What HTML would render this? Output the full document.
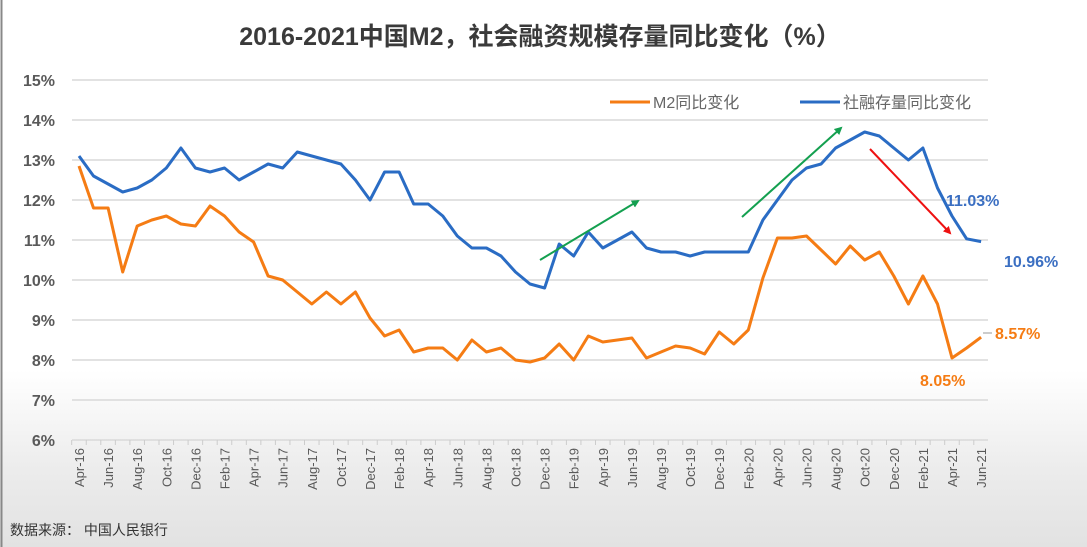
<!DOCTYPE html>
<html><head><meta charset="utf-8">
<style>
html,body{margin:0;padding:0;}
body{width:1087px;height:547px;overflow:hidden;background:linear-gradient(to bottom,#fff 0,#fff 370px,#ececec 470px,#e2e2e2 547px);font-family:"Liberation Sans","Noto Sans CJK SC",sans-serif;}
</style></head><body>
<svg id="s" width="1087" height="547" xmlns="http://www.w3.org/2000/svg" style="position:absolute;left:0;top:0">
<line x1="1.5" y1="0" x2="1.5" y2="547" stroke="#888" stroke-width="2"/>
<text x="540" y="45" text-anchor="middle" font-size="25" font-weight="bold" fill="#3a3a3a" font-family="Liberation Sans,Noto Sans CJK SC,sans-serif">2016-2021中国M2，社会融资规模存量同比变化（%）</text>
<g id="grid"></g>
<g id="ax"></g>
<path id="pb" fill="none" stroke="#2a6cc4" stroke-width="3" stroke-linejoin="round"/>
<path id="po" fill="none" stroke="#f57c14" stroke-width="3" stroke-linejoin="round"/>
<line x1="610" y1="102" x2="650" y2="102" stroke="#f57c14" stroke-width="3"/>
<text x="653" y="108" font-size="16" fill="#666">M2同比变化</text>
<line x1="800" y1="102" x2="840" y2="102" stroke="#2a6cc4" stroke-width="3"/>
<text x="843" y="108" font-size="16" fill="#666">社融存量同比变化</text>
<defs>
<marker id="ag" markerWidth="8" markerHeight="8" refX="6" refY="4" orient="auto" markerUnits="userSpaceOnUse"><path d="M0,0 L8,4 L0,8 z" fill="#14a050"/></marker>
<marker id="ar" markerWidth="8" markerHeight="8" refX="6" refY="4" orient="auto" markerUnits="userSpaceOnUse"><path d="M0,0 L8,4 L0,8 z" fill="#ee1111"/></marker>
</defs>
<line x1="540" y1="260" x2="638" y2="201" stroke="#14a050" stroke-width="2" marker-end="url(#ag)"/>
<line x1="742" y1="217" x2="841" y2="128" stroke="#14a050" stroke-width="2" marker-end="url(#ag)"/>
<line x1="870" y1="149" x2="950" y2="233" stroke="#ee1111" stroke-width="2" marker-end="url(#ar)"/>
<text x="946" y="206" font-size="16" font-weight="bold" fill="#3b6fc2">11.03%</text>
<text x="1004" y="267" font-size="16" font-weight="bold" fill="#3b6fc2">10.96%</text>
<line x1="983" y1="333" x2="992" y2="333" stroke="#999" stroke-width="1"/>
<text x="995" y="339" font-size="16" font-weight="bold" fill="#f57c14">8.57%</text>
<text x="920" y="386" font-size="16" font-weight="bold" fill="#f57c14">8.05%</text>
<text x="10" y="535" font-size="14" fill="#333">数据来源：  中国人民银行</text>
</svg>
<script>
var b=[13.1,12.6,12.4,12.2,12.3,12.5,12.8,13.3,12.8,12.7,12.8,12.5,12.7,12.9,12.8,13.2,13.1,13.0,12.9,12.5,12.0,12.7,12.7,11.9,11.9,11.6,11.1,10.8,10.8,10.6,10.2,9.9,9.8,10.9,10.6,11.2,10.8,11.0,11.2,10.8,10.7,10.7,10.6,10.7,10.7,10.7,10.7,11.5,12.0,12.5,12.8,12.9,13.3,13.5,13.7,13.6,13.3,13.0,13.3,12.3,11.6,11.03,10.96];
var o=[12.85,11.8,11.8,10.2,11.35,11.5,11.6,11.4,11.35,11.85,11.6,11.2,10.95,10.1,10.0,9.7,9.4,9.7,9.4,9.7,9.05,8.6,8.75,8.2,8.3,8.3,8.0,8.5,8.2,8.3,8.0,7.95,8.05,8.4,8.0,8.6,8.45,8.5,8.55,8.05,8.2,8.35,8.3,8.15,8.7,8.4,8.75,10.05,11.05,11.05,11.1,10.75,10.4,10.85,10.5,10.7,10.1,9.4,10.1,9.4,8.05,8.3,8.57];
var mon=["Apr","May","Jun","Jul","Aug","Sep","Oct","Nov","Dec","Jan","Feb","Mar"];
function X(i){return 79+i*14.55;}function Y(v){return 80+(15-v)*40;}
function P(a){return a.map(function(v,i){return (i?"L":"M")+X(i).toFixed(1)+","+Y(v).toFixed(1);}).join("");}
document.getElementById("pb").setAttribute("d",P(b));
document.getElementById("po").setAttribute("d",P(o));
var g="",ns="";
for(var v=6;v<=15;v++){var y=Y(v);g+='<line x1="72" y1="'+y+'" x2="988" y2="'+y+'" stroke="#d9d9d9" stroke-width="1.5"/>';
g+='<text x="55" y="'+(y+6)+'" text-anchor="end" font-size="16" font-weight="bold" fill="#595959">'+v+'%</text>';}
document.getElementById("grid").innerHTML=g;
var a="";
for(var i=0;i<63;i++){var x=X(i);a+='<line x1="'+(x-7.3)+'" y1="440" x2="'+(x-7.3)+'" y2="445" stroke="#ccc"/>';
if(i%2==0){var m=mon[i%12];var yr=16+Math.floor((i+3)/12);a+='<text transform="translate('+(x+5)+',448) rotate(-90)" text-anchor="end" font-size="13" fill="#595959">'+m+'-'+yr+'</text>';}}
document.getElementById("ax").innerHTML=a;
</script>
</body></html>
